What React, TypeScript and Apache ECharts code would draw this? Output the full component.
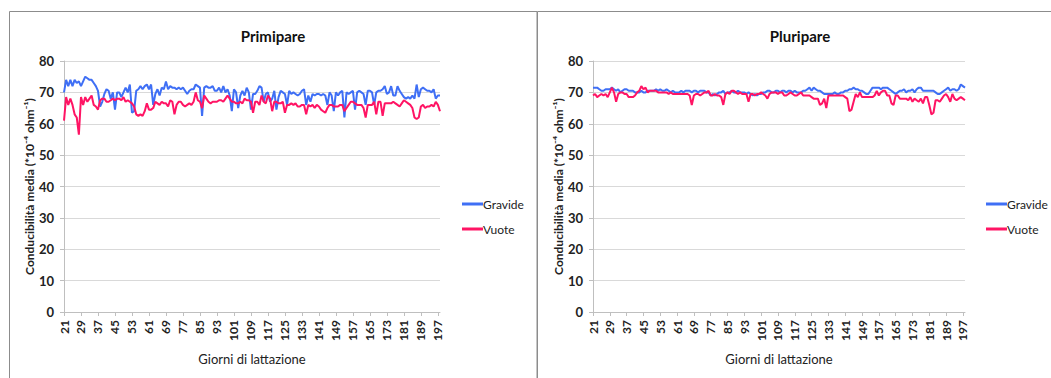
import React, { useEffect, useRef } from "react";
import * as echarts from "echarts";

const days: string[] = Array.from({ length: 178 }, (_, i) => String(21 + i));

const primiGravide = [
  70, 74, 72, 74, 72, 74, 73, 73.5, 72, 73.5,
  75, 74.5, 74, 74, 73, 72, 70.5, 65.5, 67, 69.5,
  71, 70.5, 68, 70, 64.5, 70, 70, 68.5, 70, 71.5,
  70, 72.5, 63.5, 64, 70.5, 71, 72, 71, 72, 72.5,
  71, 72.5, 66, 69.5, 71, 69, 71.5, 71, 73.5, 71,
  72, 71.5, 71.5, 71, 71.5, 71, 71.5, 70.5, 69.5, 70.5,
  71, 71, 72.5, 72, 71.5, 62.5, 71.5, 72, 71.5, 71.5,
  72, 70.5, 70.5, 71.5, 70, 72, 70, 71, 69, 64,
  71, 70, 65, 69, 70.5, 69, 71.5, 70, 64.5, 69.5,
  69.5, 70.5, 72, 71.5, 67, 69.5, 70, 67, 68, 70.5,
  64.5, 68.5, 70.5, 70, 69.5, 66, 70.5, 69.5, 70, 69.5,
  69, 69.5, 70.5, 71, 66, 69, 67, 69.5, 69, 69.5,
  69.5, 69, 69.5, 69, 66, 70, 69, 64, 70, 69,
  70, 70.5, 62, 70, 69.5, 70, 70.5, 64.5, 70, 70.5,
  70, 69.5, 66, 70.5, 70.5, 70, 66, 70, 70.5, 70.5,
  71, 72, 69.5, 70, 72, 69, 69, 72, 70.5, 69.5,
  68.5, 68, 68.5, 68, 69, 68, 72.5, 68.5, 71, 71.5,
  71, 70.5, 70.5, 70, 71, 68, 69, 69,
];

const primiVuote = [
  61, 68.5, 66, 68, 66, 63, 62, 56.5, 68.5, 66,
  68.5, 67, 68, 69, 66, 65.5, 64.5, 67.5, 68, 68,
  67, 67, 67.5, 68, 67.5, 68, 68, 67.5, 68.5, 67,
  67.5, 67, 66.5, 65.5, 63, 62.5, 63, 62.5, 64, 66.5,
  64.5, 64.5, 65, 67, 66.5, 66, 67, 66.5, 66.5, 65.5,
  67.5, 67, 63, 66, 67, 67, 66, 65.5, 66, 66.5,
  66, 67, 70, 67.5, 67, 65, 69, 68, 67, 66.5,
  67, 67, 67, 67.5, 67.5, 67, 68, 69, 68, 67,
  67, 66.5, 66.5, 67, 66.5, 68, 67.5, 67.5, 67, 63.5,
  67, 67, 66, 69, 67, 66.5, 69, 68, 64, 67,
  67, 66.5, 66.5, 67, 63.5, 66, 66, 66.5, 66, 66.5,
  65.5, 65.5, 66, 66, 63, 66, 65.5, 66, 65, 66,
  65.5, 64.5, 64, 63.5, 65, 66, 66, 65.5, 65.5, 65.5,
  66, 66, 64, 65, 66, 67, 67, 66.5, 66, 66,
  66, 65, 62, 66, 66, 66, 67, 63, 67, 67,
  62.5, 66.5, 66.5, 66.5, 66.5, 67, 66.5, 66, 65.5, 66.5,
  67.5, 67, 66.5, 66, 65, 62, 61.5, 62, 65.5, 66,
  65, 65.5, 65.5, 66, 65.5, 67, 66, 64,
];

const pluriGravide = [
  71.5, 71.5, 71.5, 71, 70.5, 70.5, 71, 71, 71, 71.5,
  71, 70.5, 71, 70, 70.5, 71, 71, 70.5, 70.5, 70.5,
  70, 70, 70, 70.5, 70, 70, 70.5, 70.5, 70.5, 70.5,
  71, 70.5, 71, 70.5, 70.5, 71, 70.5, 70, 70.5, 70,
  70, 70, 70.5, 70, 70.5, 70.5, 70.5, 70, 70.5, 70.5,
  70, 70.5, 70.5, 70.5, 70, 70, 69, 69.5, 69, 69.5,
  70, 70, 70.5, 69.5, 70, 70, 70.5, 70, 70, 70.5,
  70, 70, 70, 69.5, 70, 69.5, 69, 69.5, 69, 69.5,
  69.5, 70, 70, 70.5, 70.5, 70, 70, 70.5, 70.5, 70,
  70.5, 70.5, 70, 70.5, 70.5, 70, 70.5, 70, 70, 70,
  70.5, 70.5, 71, 71.5, 70.5, 71.5, 71, 70.5, 70.5, 70,
  69.5, 69.5, 69.5, 69.5, 69.5, 70, 69.5, 69.5, 70, 70,
  70.5, 70.5, 71, 71, 71.5, 71, 71, 70.5, 70.5, 70,
  69.5, 69.5, 70.5, 71.5, 71.5, 71.5, 71.5, 71, 71.5, 71.5,
  71.5, 71, 70.5, 70, 69.5, 70, 70.5, 70.5, 71, 70,
  70.5, 70.5, 71, 70, 71, 71.5, 71.5, 70.5, 70.5, 70.5,
  70.5, 70.5, 70.5, 70, 69.5, 69.5, 70, 70.5, 71, 71.5,
  70.5, 71, 71, 70.5, 71, 72.5, 72, 71.5,
];

const pluriVuote = [
  69, 69.5, 68.5, 69, 69.5, 69, 69.5, 68.5, 70, 71.5,
  70, 67, 69.5, 70, 70, 69.5, 69.5, 68.5, 68.5, 68.5,
  69, 70, 70.5, 72, 71, 71.5, 70, 70.5, 70.5, 70.5,
  70.5, 70, 70, 70, 70, 70, 69.5, 70, 69.5, 69.5,
  69.5, 69.5, 69.5, 69.5, 69.5, 69.5, 69, 66, 69, 69.5,
  69.5, 69, 69.5, 70, 70, 70.5, 69, 69, 69.5, 69,
  69, 68.5, 66, 69.5, 70, 69.5, 70.5, 70.5, 70, 69.5,
  70, 69.5, 69.5, 69.5, 67, 69.5, 69.5, 69, 69.5, 69.5,
  70, 69.5, 69, 68, 69.5, 70, 70, 70, 69.5, 70,
  70, 69, 69, 69.5, 70, 69.5, 69, 69, 69.5, 70,
  69, 69, 69, 69, 68.5, 68, 68, 68, 66, 66.5,
  68, 65, 69, 69, 69, 69, 69, 69, 69, 69,
  68.5, 68, 64, 64.5, 67, 69.5, 68.5, 70, 68.5, 68.5,
  68.5, 68.5, 68.5, 68.5, 69, 70.5, 69, 70, 70.5, 70.5,
  69, 69, 66.5, 66, 69, 69, 68, 68, 68, 68,
  67.5, 68.5, 67, 68, 67.5, 67, 68, 66.5, 68.5, 68.5,
  66, 63, 63.5, 67.5, 67.5, 67, 68, 69, 69.5, 68.5,
  67, 69.5, 68, 67.5, 68, 68.5, 68, 67.5,
];

const titles = ["Primipare", "Pluripare"];
const seriesNames = ["Gravide", "Vuote"];
const yAxisName = "Conducibilità media (*10⁻⁴ ohm⁻¹)";
const xAxisName = "Giorni di lattazione";

const BLUE = "#3f6ff5";
const PINK = "#ff1464";
const FONT = "Lato, 'Open Sans', sans-serif";

export default function App() {
  const ref = useRef<HTMLDivElement>(null);
  useEffect(() => {
    document.body.style.margin = "0";
    const chart = echarts.init(ref.current!, null, { renderer: "svg" });
    const grids = [
      { left: 64, right: 1051 - 440, top: 61, bottom: 378 - 312 },
      { left: 593, right: 1051 - 965, top: 61, bottom: 378 - 312 },
    ];
    const xAxes = grids.map((_, i) => ({
      type: "category",
      gridIndex: i,
      data: days,
      boundaryGap: false,
      name: xAxisName,
      nameLocation: "middle",
      nameGap: 40,
      nameTextStyle: { fontFamily: FONT, fontSize: 13, color: "#222" },
      axisLine: { lineStyle: { color: "#bfbfbf" } },
      axisTick: { interval: 7, length: 4, lineStyle: { color: "#bfbfbf" } },
      axisLabel: {
        interval: 7,
        rotate: 90,
        fontFamily: FONT,
        fontWeight: "bold",
        fontSize: 12,
        color: "#222",
        margin: 8,
      },
      splitLine: { show: false },
    }));
    const yAxes = grids.map((_, i) => ({
      type: "value",
      gridIndex: i,
      min: 0,
      max: 80,
      interval: 10,
      name: yAxisName,
      nameLocation: "middle",
      nameGap: 28,
      nameTextStyle: { fontFamily: FONT, fontSize: 12, fontWeight: "bold", color: "#222" },
      axisLine: { show: true, lineStyle: { color: "#bfbfbf" } },
      axisTick: { show: true, length: 4, lineStyle: { color: "#bfbfbf" } },
      axisLabel: { fontFamily: FONT, fontWeight: "bold", fontSize: 13, color: "#222", margin: 10 },
      splitLine: { lineStyle: { color: "#d9d9d9" } },
    }));
    const dataSets = [
      [primiGravide, primiVuote],
      [pluriGravide, pluriVuote],
    ];
    const series: any[] = [];
    dataSets.forEach((pair, gi) => {
      pair.forEach((vals, si) => {
        series.push({
          type: "line",
          name: seriesNames[si],
          xAxisIndex: gi,
          yAxisIndex: gi,
          data: vals,
          showSymbol: false,
          symbol: "none",
          lineStyle: { width: 2, color: si === 0 ? BLUE : PINK },
          itemStyle: { color: si === 0 ? BLUE : PINK },
          z: si === 0 ? 2 : 3,
        });
      });
    });
    const legendText = { fontFamily: FONT, fontSize: 12, color: "#222", padding: [0, 0, 0, -5] };
    chart.setOption({
      animation: false,
      backgroundColor: "#fff",
      title: [
        { text: titles[0], left: 268, top: 23, textAlign: "center", textStyle: { fontFamily: FONT, fontSize: 15, fontWeight: "bold", color: "#111" } },
        { text: titles[1], left: 795, top: 23, textAlign: "center", textStyle: { fontFamily: FONT, fontSize: 15, fontWeight: "bold", color: "#111" } },
      ],
      legend: [
        { orient: "vertical", left: 457, top: 193, itemWidth: 21, itemHeight: 3, itemGap: 13, icon: "rect", data: seriesNames, textStyle: legendText, selectedMode: false },
        { orient: "vertical", left: 981, top: 193, itemWidth: 21, itemHeight: 3, itemGap: 13, icon: "rect", data: seriesNames, textStyle: legendText, selectedMode: false },
      ],
      grid: grids,
      xAxis: xAxes,
      yAxis: yAxes,
      series,
      graphic: [
        { type: "rect", shape: { x: 9.5, y: 11.5, width: 527.5, height: 400 }, style: { fill: "none", stroke: "#8c8c8c", lineWidth: 1 }, silent: true },
        { type: "rect", shape: { x: 537.5, y: 11.5, width: 530, height: 400 }, style: { fill: "none", stroke: "#8c8c8c", lineWidth: 1 }, silent: true },
      ],
    });
    return () => chart.dispose();
  }, []);
  return <div ref={ref} style={{ width: 1051, height: 378 }} />;
}
